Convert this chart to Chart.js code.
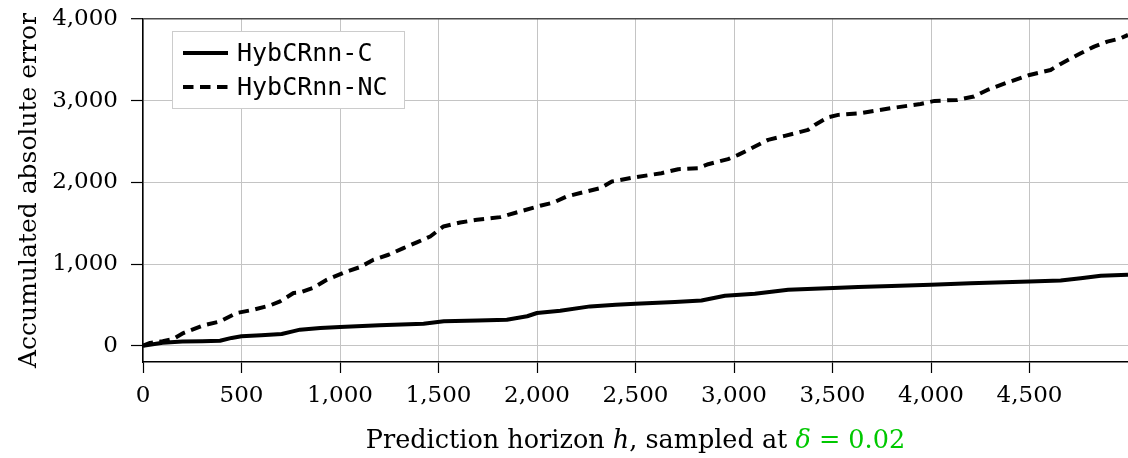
<!DOCTYPE html>
<html>
<head>
<meta charset="utf-8">
<script src="https://cdn.jsdelivr.net/npm/chart.js@4.4.0/dist/chart.umd.min.js"></script>
<style>
  html, body { margin: 0; padding: 0; background: #fff; }
  #wrap { width: 1128px; height: 458px; }
</style>
</head>
<body>
<div id="wrap"><canvas id="myChart" width="1128" height="458"></canvas></div>
<script>
// series
const horizonC = [0, 100, 200, 300, 391, 450, 500, 600, 704, 760, 797, 900, 1000, 1200, 1424, 1527, 1700, 1847, 1950, 2000,
    2118, 2270, 2400, 2500, 2700, 2835, 2954, 3106, 3275, 3504, 3630, 3800, 4000, 4200, 4500, 4658, 4760, 4862, 5000];
const errorC = [0, 35, 50, 55, 61, 95, 115, 128, 143, 175, 196, 215, 228, 250, 269, 298, 308, 318, 360, 400,
    428, 481, 500, 514, 535, 554, 612, 636, 685, 705, 718, 730, 746, 765, 787, 799, 825, 856, 868];

const horizonNC = [0, 36, 100, 153, 205, 306, 391, 476, 560, 645, 696, 764, 797, 865, 933, 1035, 1102, 1170, 1246, 1322,
    1390, 1458, 1525, 1610, 1695, 1813, 1931, 2016, 2084, 2151, 2236, 2321, 2380, 2500, 2632, 2717, 2818, 2869, 2970, 3021,
    3106, 3173, 3258, 3376, 3410, 3478, 3529, 3642, 3795, 3947, 4018, 4133, 4218, 4286, 4387, 4500, 4607, 4658, 4760, 4828,
    4895, 4963, 5000];
const errorNC = [0, 33, 55, 82, 155, 248, 297, 400, 440, 493, 542, 645, 652, 709, 807, 909, 962, 1052, 1113, 1195,
    1264, 1337, 1460, 1508, 1541, 1574, 1655, 1713, 1753, 1827, 1880, 1929, 2010, 2063, 2112, 2161, 2173, 2222, 2284, 2336,
    2438, 2520, 2569, 2642, 2703, 2797, 2826, 2846, 2907, 2960, 2997, 3009, 3050, 3131, 3221, 3315, 3376, 3450, 3580, 3662,
    3723, 3764, 3805];

const xTickValues = [0, 500, 1000, 1500, 2000, 2500, 3000, 3500, 4000, 4500];
const yTickValues = [0, 1000, 2000, 3000, 4000];

const seriesLabels = ["HybCRnn-C", "HybCRnn-NC"];
const yTitle = "Accumulated absolute error";
const xTitleParts = [
    { text: "Prediction horizon ", italic: false, color: "#000" },
    { text: "h", italic: true, color: "#000" },
    { text: ", sampled at ", italic: false, color: "#000" },
    { text: "\u03b4", italic: true, color: "#00c800" },
    { text: " = 0.02", italic: false, color: "#00c800" },
];

const SERIF = "'DejaVu Serif', 'Liberation Serif', serif";
const MONO = "'DejaVu Sans Mono', 'Liberation Mono', monospace";

function toPoints(xs, ys) {
    return xs.map((x, i) => ({ x: x, y: ys[i] }));
}

// legend box inside the plot (top left) and the mixed-style x title
const overlayPlugin = {
    id: "overlay",
    afterDatasetsDraw(chart) {
        const ctx = chart.ctx;
        const area = chart.chartArea;
        ctx.save();

        // legend
        const bx = area.left + 29, by = area.top + 12, bw = 232, bh = 77;
        ctx.fillStyle = "#fff";
        ctx.fillRect(bx, by, bw, bh);
        ctx.strokeStyle = "#cccccc";
        ctx.lineWidth = 1;
        ctx.strokeRect(bx + 0.5, by + 0.5, bw, bh);
        ctx.font = "25px " + MONO;
        ctx.textBaseline = "middle";
        ctx.fillStyle = "#000";
        chart.data.datasets.forEach((ds, i) => {
            const rowY = by + 22 + i * 34;
            ctx.beginPath();
            ctx.setLineDash(ds.borderDash || []);
            ctx.lineWidth = ds.borderWidth;
            ctx.strokeStyle = ds.borderColor;
            ctx.moveTo(bx + 11, rowY);
            ctx.lineTo(bx + 56, rowY);
            ctx.stroke();
            ctx.setLineDash([]);
            ctx.fillText(ds.label, bx + 65, rowY + 1);
        });

        // x title
        ctx.textBaseline = "alphabetic";
        const font = (p) => (p.italic ? "italic " : "") + "25.5px " + SERIF;
        let total = 0;
        xTitleParts.forEach((p) => {
            ctx.font = font(p);
            total += ctx.measureText(p.text).width;
        });
        let x = (area.left + area.right) / 2 - total / 2;
        xTitleParts.forEach((p) => {
            ctx.font = font(p);
            ctx.fillStyle = p.color;
            ctx.fillText(p.text, x, 448);
            x += ctx.measureText(p.text).width;
        });
        ctx.restore();
    },
};

const ctx = document.getElementById("myChart").getContext("2d");
window.myChart = new Chart(ctx, {
    type: "line",
    data: {
        datasets: [
            {
                label: seriesLabels[0],
                data: toPoints(horizonC, errorC),
                borderColor: "#000",
                borderWidth: 4,
                pointRadius: 0,
                borderCapStyle: "butt",
                borderJoinStyle: "round",
            },
            {
                label: seriesLabels[1],
                data: toPoints(horizonNC, errorNC),
                borderColor: "#000",
                borderWidth: 4,
                borderDash: [10.5, 6.5],
                pointRadius: 0,
                borderCapStyle: "butt",
                borderJoinStyle: "round",
            },
        ],
    },
    options: {
        responsive: false,
        animation: false,
        layout: { padding: { top: 19, left: 0, right: 0, bottom: 0 } },
        plugins: {
            legend: { display: false },
            tooltip: { enabled: false },
        },
        scales: {
            x: {
                type: "linear",
                min: 0,
                max: 5000,
                afterBuildTicks: (scale) => {
                    scale.ticks = xTickValues.map((v) => ({ value: v }));
                },
                afterFit: (scale) => {
                    scale.height = 96;
                    scale.paddingLeft = 0;
                    scale.paddingRight = 0;
                },
                ticks: {
                    color: "#000",
                    padding: 9,
                    maxRotation: 0,
                    autoSkip: false,
                    font: { family: SERIF, size: 23 },
                },
                grid: {
                    color: "#c4c4c4",
                    lineWidth: 1,
                    tickColor: "#000",
                    tickLength: 11,
                    tickWidth: 1.2,
                },
                border: { color: "#000", width: 1.5 },
            },
            y: {
                min: -200,
                max: 4000,
                afterBuildTicks: (scale) => {
                    scale.ticks = yTickValues.map((v) => ({ value: v }));
                },
                afterFit: (scale) => {
                    scale.width = 143;
                    scale.paddingTop = 0;
                    scale.paddingBottom = 0;
                },
                ticks: {
                    color: "#000",
                    padding: 13,
                    autoSkip: false,
                    font: { family: SERIF, size: 23 },
                },
                grid: {
                    color: (c) => (c.tick && c.tick.value === 4000 ? "#4a4a4a" : "#c4c4c4"),
                    lineWidth: (c) => (c.tick && c.tick.value === 4000 ? 1.4 : 1),
                    tickColor: "#000",
                    tickLength: 12,
                    tickWidth: 1.2,
                },
                border: { color: "#000", width: 1.5 },
                title: {
                    display: true,
                    text: yTitle,
                    color: "#000",
                    padding: { top: 14, bottom: 0 },
                    font: { family: SERIF, size: 25 },
                },
            },
        },
    },
    plugins: [overlayPlugin],
});
</script>
</body>
</html>
